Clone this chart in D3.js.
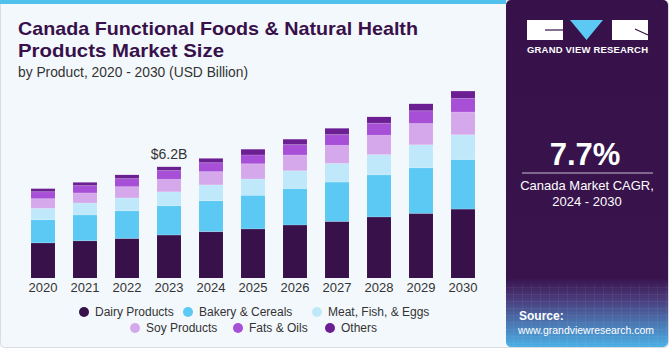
<!DOCTYPE html>
<html>
<head>
<meta charset="utf-8">
<script src="https://cdn.jsdelivr.net/npm/d3@7"></script>
<style>
  body { margin: 0; background: #ffffff; }
  svg { display: block; font-family: "Liberation Sans", Arial, sans-serif; }
</style>
</head>
<body>
<div id="viz"></div>
<script>
const years = ["2020","2021","2022","2023","2024","2025","2026","2027","2028","2029","2030"]
const segments = ["Dairy Products","Bakery & Cereals","Meat, Fish, & Eggs","Soy Products","Fats & Oils","Others"]
const dairy  = [1.96, 2.08, 2.21, 2.40, 2.59, 2.74, 2.96, 3.16, 3.41, 3.61, 3.85]
const bakery = [1.30, 1.44, 1.55, 1.64, 1.73, 1.88, 2.04, 2.20, 2.35, 2.55, 2.77]
const meat   = [0.63, 0.67, 0.71, 0.77, 0.88, 0.91, 0.99, 1.04, 1.13, 1.28, 1.38]
const soy    = [0.54, 0.56, 0.63, 0.70, 0.74, 0.85, 0.88, 1.01, 1.08, 1.19, 1.27]
const fats   = [0.39, 0.41, 0.45, 0.49, 0.50, 0.49, 0.58, 0.60, 0.67, 0.71, 0.76]
const others = [0.17, 0.18, 0.21, 0.21, 0.24, 0.32, 0.30, 0.35, 0.36, 0.39, 0.41]
const colors = ["#38104a","#5cc9f5","#bfe9fa","#d5a8eb","#a74fd7","#6c1f93"]
const callout = {year: "2023", label: "$6.2B"}

function drawChart () {
    const width = 671
    const height = 350

    const svg = d3.select("#viz")
                  .append("svg")
                  .attr("width", width)
                  .attr("height", height)

    const defs = svg.append("defs")

    // card background + top accent
    svg.append("rect").attr("x", 0.5).attr("y", 0.5).attr("width", 668).attr("height", 347)
       .attr("rx", 4).attr("fill", "#f3f8fc").attr("stroke", "#d9dde2")
    svg.append("rect").attr("x", 0).attr("y", 0).attr("width", 506).attr("height", 4)
       .attr("fill", "#4fc1ec")

    // right panel
    const grad = defs.append("linearGradient").attr("id", "panelGrad")
                     .attr("x1", 0).attr("y1", 0).attr("x2", 0).attr("y2", 1)
    grad.append("stop").attr("offset", "0%").attr("stop-color", "#37124a")
    grad.append("stop").attr("offset", "80%").attr("stop-color", "#38134c")
    grad.append("stop").attr("offset", "86%").attr("stop-color", "#4a3a7a")
    grad.append("stop").attr("offset", "100%").attr("stop-color", "#4bb0e6")

    const pat = defs.append("pattern").attr("id", "gridPat").attr("patternUnits", "userSpaceOnUse")
                    .attr("width", 9).attr("height", 7)
    pat.append("path").attr("d", "M0 0 L9 0 M0 0 L0 7").attr("stroke", "rgba(255,255,255,0.16)")
       .attr("stroke-width", 0.6).attr("fill", "none")

    const clip = defs.append("clipPath").attr("id", "panelClip")
    clip.append("rect").attr("x", 506).attr("y", 0).attr("width", 162).attr("height", 347).attr("rx", 5)

    const panel = svg.append("g").attr("clip-path", "url(#panelClip)")
    panel.append("rect").attr("x", 506).attr("y", 0).attr("width", 162).attr("height", 347)
         .attr("fill", "url(#panelGrad)")
    panel.append("rect").attr("x", 506).attr("y", 284).attr("width", 162).attr("height", 63)
         .attr("fill", "url(#gridPat)")

    // logo
    const logo = svg.append("g")
    logo.append("rect").attr("x", 527).attr("y", 20).attr("width", 36).attr("height", 20).attr("fill", "#ffffff")
    logo.append("line").attr("x1", 545).attr("y1", 30).attr("x2", 563).attr("y2", 30)
        .attr("stroke", "#37124a").attr("stroke-width", 1.2)
    logo.append("path").attr("d", "M570 20 L603 20 L586.5 40 Z").attr("fill", "#5cc9f5")
    logo.append("rect").attr("x", 612).attr("y", 20).attr("width", 36).attr("height", 20).attr("fill", "#ffffff")
    logo.append("line").attr("x1", 635).attr("y1", 29).attr("x2", 648).attr("y2", 35)
        .attr("stroke", "#37124a").attr("stroke-width", 1.2)
    svg.append("text").attr("x", 527).attr("y", 53)
       .attr("fill", "#ffffff").attr("font-size", 9.5).attr("font-weight", "bold")
       .attr("textLength", 121).attr("lengthAdjust", "spacing").text("GRAND VIEW RESEARCH")

    svg.append("text").attr("x", 585).attr("y", 165).attr("text-anchor", "middle")
       .attr("fill", "#ffffff").attr("font-size", 31).attr("font-weight", "bold").text("7.7%")
    svg.append("line").attr("x1", 522).attr("x2", 653).attr("y1", 173).attr("y2", 173)
       .attr("stroke", "#c9bdd3").attr("stroke-width", 1)
    svg.append("text").attr("x", 587).attr("y", 190).attr("text-anchor", "middle")
       .attr("fill", "#ffffff").attr("font-size", 13).text("Canada Market CAGR,")
    svg.append("text").attr("x", 587).attr("y", 206).attr("text-anchor", "middle")
       .attr("fill", "#ffffff").attr("font-size", 13).text("2024 - 2030")

    svg.append("text").attr("x", 519).attr("y", 320).attr("fill", "#ffffff")
       .attr("font-size", 12).attr("font-weight", "bold").text("Source:")
    svg.append("text").attr("x", 518).attr("y", 334).attr("fill", "#ffffff")
       .attr("font-size", 11).attr("textLength", 136).attr("lengthAdjust", "spacingAndGlyphs")
       .text("www.grandviewresearch.com")

    // titles
    svg.append("text").attr("x", 18).attr("y", 35).attr("fill", "#38104a")
       .attr("font-size", 18.5).attr("font-weight", "bold")
       .attr("textLength", 400).attr("lengthAdjust", "spacingAndGlyphs")
       .text("Canada Functional Foods & Natural Health")
    svg.append("text").attr("x", 18).attr("y", 57).attr("fill", "#38104a")
       .attr("font-size", 18.5).attr("font-weight", "bold")
       .attr("textLength", 206).attr("lengthAdjust", "spacingAndGlyphs")
       .text("Products Market Size")
    svg.append("text").attr("x", 18).attr("y", 77).attr("fill", "#333333")
       .attr("font-size", 13.8).text("by Product, 2020 - 2030 (USD Billion)")

    // chart
    const series = [dairy, bakery, meat, soy, fats, others]
    const table = years.map((y, i) => {
        const row = {year: y}
        segments.forEach((s, j) => { row[s] = series[j][i] })
        return row
    })
    const stacked = d3.stack().keys(segments)(table)

    const xScale = d3.scaleBand()
                     .domain(years)
                     .range([22, 484])
                     .paddingInner(0.43)
                     .paddingOuter(0.215)

    const yScale = d3.scaleLinear()
                     .domain([0, 11])
                     .range([278, 278 - 11 * 17.9])

    const bars = svg.append("g")
    bars.selectAll("g")
        .data(stacked)
        .join("g")
        .attr("fill", (d, i) => colors[i])
        .selectAll("rect")
        .data(d => d)
        .join("rect")
        .attr("x", d => xScale(d.data.year))
        .attr("y", d => yScale(d[1]))
        .attr("width", xScale.bandwidth())
        .attr("height", d => yScale(d[0]) - yScale(d[1]))

    // separators between segments
    bars.append("g").selectAll("line")
        .data(stacked.slice(0, -1).flat())
        .join("line")
        .attr("x1", d => xScale(d.data.year))
        .attr("x2", d => xScale(d.data.year) + xScale.bandwidth())
        .attr("y1", d => yScale(d[1]))
        .attr("y2", d => yScale(d[1]))
        .attr("stroke", "rgba(255,255,255,0.35)")
        .attr("stroke-width", 0.6)

    const xAxis = d3.axisBottom(xScale).tickSize(0).tickPadding(5)
    const ax = svg.append("g").attr("transform", "translate(0,278)").call(xAxis)
    ax.select(".domain").remove()
    ax.selectAll("text").attr("font-size", 13).attr("fill", "#333333")
      .attr("font-family", "'Liberation Sans', Arial, sans-serif")

    const cIdx = years.indexOf(callout.year)
    svg.append("text")
       .attr("x", xScale(callout.year) + xScale.bandwidth() / 2)
       .attr("y", yScale(stacked[stacked.length - 1][cIdx][1]) - 8)
       .attr("text-anchor", "middle").attr("fill", "#333333").attr("font-size", 14)
       .text(callout.label)

    // legend
    const legendPos = [[84, 312], [188, 312], [317, 312], [135, 328], [238, 328], [330, 328]]
    const legend = svg.append("g").selectAll("g")
        .data(segments)
        .join("g")
        .attr("transform", (d, i) => `translate(${legendPos[i][0]},${legendPos[i][1]})`)
    legend.append("circle").attr("r", 5).attr("fill", (d, i) => colors[i])
    legend.append("text").attr("x", 11).attr("y", 4.3).attr("font-size", 12)
          .attr("fill", "#333333").text(d => d)
}

drawChart()
</script>
</body>
</html>
